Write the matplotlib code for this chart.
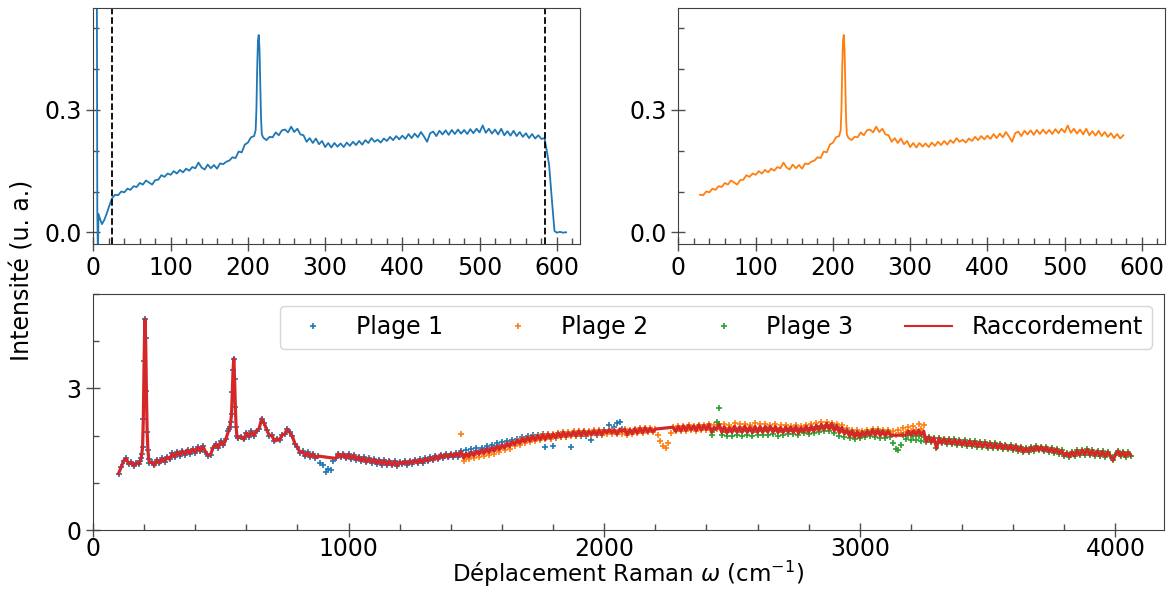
import numpy as np
import pandas as pd
import matplotlib
matplotlib.use("Agg")
import matplotlib.pyplot as plt
from matplotlib.ticker import MultipleLocator

# ---- spectre brut (panneaux du haut) ----
raw_head_x = [3.5, 5.0, 5.8, 6.5, 9, 11, 14, 17, 20]
raw_head_y = [1.5, 0.05, -0.06, 0.045, 0.03, 0.02, 0.03, 0.045, 0.062]

raw_a = [0.083, 0.092, 0.091, 0.100, 0.098, 0.107, 0.104, 0.113, 0.111, 0.121,
         0.117, 0.127, 0.122, 0.117, 0.128, 0.129, 0.140, 0.136, 0.144, 0.141,
         0.150, 0.144, 0.153, 0.147, 0.156, 0.151, 0.160, 0.157, 0.171, 0.159,
         0.154, 0.166, 0.157, 0.165, 0.156, 0.169, 0.167, 0.173, 0.176, 0.184,
         0.182, 0.198, 0.196, 0.215, 0.220, 0.233]          # 24 -> 204, pas 4
raw_peak_x = [208, 210, 211, 212, 213, 214, 215, 216, 217, 218, 220]
raw_peak_y = [0.236, 0.25, 0.30, 0.40, 0.47, 0.484, 0.45, 0.36, 0.28, 0.24, 0.232]
raw_b = [0.226, 0.234, 0.233, 0.245, 0.238, 0.250, 0.252, 0.245, 0.259, 0.246,
         0.254, 0.240, 0.238, 0.222, 0.231, 0.219, 0.230, 0.216, 0.224, 0.209,
         0.219, 0.208, 0.219, 0.210, 0.218, 0.209, 0.220, 0.212, 0.222, 0.214,
         0.224, 0.215, 0.226, 0.219, 0.231, 0.222, 0.227, 0.220, 0.230, 0.224,
         0.234, 0.226, 0.236, 0.228, 0.237, 0.229, 0.241, 0.231, 0.242, 0.233,
         0.246, 0.235, 0.222, 0.243, 0.247, 0.236, 0.249, 0.240, 0.250, 0.239,
         0.251, 0.241, 0.252, 0.242, 0.251, 0.241, 0.253, 0.243, 0.254, 0.245,
         0.262, 0.244, 0.254, 0.242, 0.252, 0.240, 0.254, 0.238, 0.248, 0.237,
         0.249, 0.236, 0.246, 0.234, 0.243, 0.231, 0.241, 0.230, 0.238, 0.229,
         0.231]                                                # 224 -> 584, pas 4
raw_tail_x = [587, 590, 594, 597, 600, 604, 608, 612]
raw_tail_y = [0.20, 0.165, 0.07, 0.003, -0.001, 0.001, -0.001, 0.0]

cut_lo, cut_hi = 24, 585

# ---- plages (panneau du bas) ----
p1_a = [1.20, 1.33, 1.47, 1.52, 1.40, 1.44, 1.36, 1.43, 1.40]   # 100 -> 180, pas 10
p1_pk1 = [1.47, 1.52, 1.62, 1.76, 2.36, 3.57, 4.47, 4.06, 2.94, 2.07,
          1.69, 1.50, 1.43]                                        # 185 -> 221, pas 3
p1_b = [1.44, 1.37, 1.49, 1.42, 1.52, 1.45, 1.55, 1.50, 1.63, 1.55,
        1.66, 1.58, 1.68, 1.60, 1.70, 1.62, 1.72, 1.64, 1.76, 1.67,
        1.78, 1.66, 1.58, 1.60, 1.75, 1.82, 1.74, 1.88, 1.80, 1.93]  # 230 -> 520
p1_pk2 = [2.10, 2.15, 2.18, 2.30, 2.45, 2.92, 3.38, 3.63, 3.20, 2.61,
          2.18, 2.00, 1.95, 1.96]                                  # 530 -> 569, pas 3
p1_c = [1.98, 1.92, 2.06, 1.98, 2.09, 2.00, 2.11, 2.15, 2.36, 2.26,
        2.12, 2.00, 2.01, 1.88, 1.94, 1.90, 2.02, 2.03, 2.14, 2.07,
        1.99, 1.83, 1.76, 1.64, 1.67, 1.57, 1.65, 1.55, 1.62, 1.53,
        1.57, 1.42, 1.38, 1.24, 1.29, 1.28, 1.47, 1.52, 1.62, 1.54,
        1.62, 1.52, 1.61, 1.51, 1.59, 1.49, 1.56, 1.46, 1.54, 1.44,
        1.52, 1.43, 1.50, 1.41, 1.49, 1.39, 1.48, 1.38, 1.47, 1.37,
        1.46, 1.36, 1.45, 1.40, 1.46, 1.39, 1.47, 1.41, 1.49, 1.42,
        1.50, 1.43, 1.52, 1.46, 1.54, 1.48, 1.58, 1.50, 1.60, 1.53,
        1.61, 1.54, 1.62, 1.55, 1.63, 1.56, 1.67, 1.58, 1.69, 1.61,
        1.71, 1.63, 1.73, 1.66, 1.75, 1.68, 1.78, 1.70, 1.80, 1.73,
        1.84, 1.76, 1.86, 1.79, 1.89, 1.82, 1.91, 1.84, 1.93, 1.87,
        1.97, 1.89, 1.99, 1.91, 2.01, 1.92, 2.02, 1.94, 2.03, 1.77,
        2.04, 1.95, 1.78, 1.96, 2.06, 1.97, 2.07, 1.98, 2.05, 1.77,
        2.08, 1.99, 2.09, 2.00, 2.10, 2.00, 2.08, 1.90, 2.09, 2.01,
        2.10, 2.02, 2.12, 2.08, 2.22, 2.09, 2.19, 2.26, 2.29, 2.14,
        2.12]                                                      # 580 -> 2080, pas 10

p2 = [2.03, 1.47, 1.56, 1.50, 1.60, 1.52, 1.63, 1.55, 1.65, 1.57,
      1.68, 1.59, 1.70, 1.62, 1.73, 1.65, 1.76, 1.69, 1.80, 1.72,
      1.84, 1.78, 1.88, 1.81, 1.92, 1.85, 1.95, 1.87, 1.97, 1.89,
      1.99, 1.90, 2.01, 1.92, 2.03, 1.94, 2.04, 1.95, 2.06, 1.97,
      2.07, 1.98, 2.08, 1.99, 2.09, 2.00, 2.10, 2.01, 2.11, 2.02,
      2.11, 2.02, 2.12, 2.03, 2.13, 2.02, 2.11, 2.04, 2.13, 2.03,
      2.12, 2.03, 2.13, 2.04, 2.14, 2.02, 2.13, 2.04, 2.15, 2.05,
      2.16, 2.06, 2.17, 2.07, 2.16, 2.08, 2.14, 2.02, 1.88, 1.78,
      1.73, 1.85, 2.05, 2.18, 2.09, 2.20, 2.10, 2.21, 2.11, 2.22,
      2.12, 2.21, 2.11, 2.23, 2.12, 2.22, 2.13, 2.24, 2.12, 2.23,
      2.14, 2.24, 2.13, 2.25, 2.12, 2.23, 2.14, 2.26, 2.13, 2.24,
      2.15, 2.25, 2.12, 2.23, 2.14, 2.26, 2.13, 2.24, 2.12, 2.25,
      2.14, 2.23, 2.12, 2.24, 2.13, 2.22, 2.11, 2.23, 2.12, 2.21,
      2.10, 2.22, 2.09, 2.21, 2.11, 2.23, 2.12, 2.25, 2.13, 2.26,
      2.15, 2.28, 2.16, 2.29, 2.18, 2.27, 2.15, 2.25, 2.12, 2.22,
      2.10, 2.16, 2.02, 2.13, 2.00, 2.12, 1.98, 2.10, 2.01, 2.12,
      2.03, 2.14, 2.05, 2.15, 2.04, 2.13, 2.03, 2.12, 2.05, 2.10,
      2.02, 2.13, 2.06, 2.17, 2.08, 2.19, 2.11, 2.21, 2.13, 2.24,
      2.15, 2.22]                                                  # 1440 -> 3250, pas 10

p3 = [2.02, 2.12, 2.29, 2.58, 2.01, 2.13, 1.99, 2.12, 2.00, 2.14,
      2.01, 2.13, 2.00, 2.15, 2.02, 2.14, 1.99, 2.13, 2.01, 2.15,
      2.02, 2.14, 2.01, 2.16, 2.03, 2.15, 2.00, 2.13, 2.02, 2.14,
      2.03, 2.15, 2.04, 2.16, 2.02, 2.13, 2.05, 2.17, 2.03, 2.16,
      2.06, 2.18, 2.08, 2.20, 2.10, 2.22, 2.09, 2.23, 2.06, 2.18,
      2.00, 2.13, 1.97, 2.09, 1.96, 2.08, 1.94, 2.05, 1.95, 2.06,
      1.98, 2.08, 2.00, 2.11, 1.97, 2.09, 1.96, 2.08, 1.95, 2.07,
      1.97, 1.85, 1.72, 1.69, 1.80, 2.02, 1.94, 2.01, 1.91, 2.00,
      1.90, 1.99, 1.88, 1.97, 1.87, 1.98, 1.86, 1.96, 1.73, 1.95,
      1.84, 1.94, 1.83, 1.93, 1.82, 1.92, 1.81, 1.91, 1.80, 1.90,
      1.79, 1.89, 1.78, 1.88, 1.77, 1.87, 1.76, 1.86, 1.75, 1.85,
      1.74, 1.84, 1.73, 1.83, 1.72, 1.81, 1.71, 1.80, 1.70, 1.79,
      1.68, 1.77, 1.65, 1.74, 1.66, 1.76, 1.68, 1.78, 1.69, 1.77,
      1.67, 1.76, 1.66, 1.74, 1.64, 1.72, 1.62, 1.69, 1.57, 1.64,
      1.55, 1.66, 1.57, 1.69, 1.59, 1.70, 1.60, 1.71, 1.59, 1.69,
      1.58, 1.68, 1.57, 1.67, 1.56, 1.66, 1.58, 1.48, 1.59, 1.68,
      1.57, 1.66, 1.56, 1.65, 1.58]                                # 2420 -> 4060, pas 10

# points aberrants laisses hors du raccordement
p1_out = [1770, 1800, 1870, 1950, 2020, 2040, 2050, 2060]
p2_out = [1440]
p3_out = [2440, 2450]
# zones ecartees du raccordement (creux parasites)
skip = [(885, 945), (2205, 2265), (3125, 3175)]


def seg(start, step, vals):
    return start + step * np.arange(len(vals))


raw_x = np.concatenate([raw_head_x, seg(24, 4, raw_a), raw_peak_x,
                        seg(224, 4, raw_b), raw_tail_x])
raw_y = np.concatenate([raw_head_y, raw_a, raw_peak_y, raw_b, raw_tail_y])

p1_x = np.concatenate([seg(100, 10, p1_a), seg(185, 3, p1_pk1), seg(230, 10, p1_b),
                       seg(530, 3, p1_pk2), seg(580, 10, p1_c)])
p1_y = np.concatenate([p1_a, p1_pk1, p1_b, p1_pk2, p1_c])
p2_x = seg(1440, 10, p2)
p3_x = seg(2420, 10, p3)

s = pd.concat([pd.Series(p1_y, index=p1_x).drop(p1_out),
               pd.Series(p2, index=p2_x).drop(p2_out),
               pd.Series(p3, index=p3_x).drop(p3_out)])
racc = s.groupby(level=0).mean()
keep = np.ones(len(racc), bool)
for a, b in skip:
    keep &= ~((racc.index > a) & (racc.index < b))
racc = racc[keep]

plt.rcParams['font.size'] = 17
fig = plt.figure(figsize=(11.71, 5.90), dpi=100)
ax1 = fig.add_axes([0.0798, 0.5856, 0.4155, 0.4007])
ax2 = fig.add_axes([0.5794, 0.5856, 0.4155, 0.4007])
ax3 = fig.add_axes([0.0794, 0.1012, 0.9146, 0.4008])

ax1.plot(raw_x, raw_y, color='C0', lw=1.3)
ax1.axvline(cut_lo, color='k', ls='--', lw=1.3)
ax1.axvline(cut_hi, color='k', ls='--', lw=1.3)

m = (raw_x >= 25) & (raw_x <= 577)
ax2.plot(raw_x[m], raw_y[m], color='C1', lw=1.3)

for ax in (ax1, ax2):
    ax.set_xlim(0, 630)
    ax.set_ylim(-0.03, 0.55)
    ax.xaxis.set_major_locator(MultipleLocator(100))
    ax.xaxis.set_minor_locator(MultipleLocator(20))
    ax.yaxis.set_major_locator(MultipleLocator(0.3))
    ax.yaxis.set_minor_locator(MultipleLocator(0.1))

ax3.plot(p1_x, p1_y, '+', color='C0', ms=5, mew=1.2, label='Plage 1')
ax3.plot(p2_x, p2, '+', color='C1', ms=5, mew=1.2, label='Plage 2')
ax3.plot(p3_x, p3, '+', color='C2', ms=5, mew=1.2, label='Plage 3')
ax3.plot(racc.index, racc.values, color='C3', lw=2.3, label='Raccordement')
ax3.set_xlim(0, 4190)
ax3.set_ylim(0, 5)
ax3.xaxis.set_major_locator(MultipleLocator(1000))
ax3.xaxis.set_minor_locator(MultipleLocator(200))
ax3.yaxis.set_major_locator(MultipleLocator(3))
ax3.yaxis.set_minor_locator(MultipleLocator(1))
leg = ax3.legend(loc='upper right', ncol=4, fontsize=17, numpoints=1, columnspacing=2.2)
leg.get_lines()[3].set_linewidth(1.5)

for ax in (ax1, ax2, ax3):
    ax.tick_params(which='major', direction='inout', length=10, width=1, color='0.3')
    ax.tick_params(which='minor', direction='in', length=4, width=1, color='0.3')
    for sp in ax.spines.values():
        sp.set_color('0.25')
ax3.tick_params(axis='x', which='major', pad=0)

fig.text(0.536, 0.002, r'Déplacement Raman $\omega$ (cm$^{-1}$)', ha='center',
         va='bottom', fontsize=16.5)
fig.text(0.0188, 0.542, 'Intensité (u. a.)', rotation=90, ha='center', va='center',
         fontsize=17)

fig.savefig('out.png', dpi=100)
